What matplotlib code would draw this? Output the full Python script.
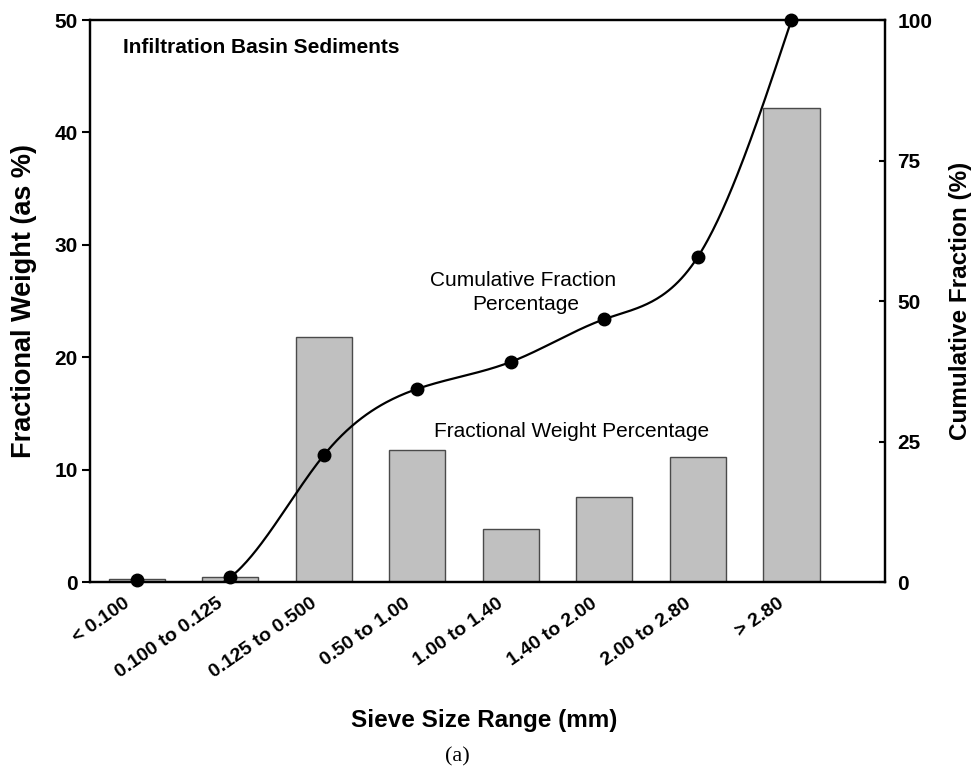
import numpy as np
import matplotlib
matplotlib.use('Agg')
import matplotlib.pyplot as plt
from matplotlib.transforms import ScaledTranslation

plt.rcParams['font.family'] = ['Liberation Sans', 'DejaVu Sans']

# data
sieve_ranges = ['< 0.100', '0.100 to 0.125', '0.125 to 0.500', '0.50 to 1.00',
                '1.00 to 1.40', '1.40 to 2.00', '2.00 to 2.80', '> 2.80']
fractional_weight = [0.3, 0.5, 21.8, 11.8, 4.7, 7.6, 11.1, 42.2]
cumulative_fraction = [0.4, 0.9, 22.6, 34.4, 39.2, 46.8, 57.9, 100.0]
left_ticks = [0, 10, 20, 30, 40, 50]
right_ticks = [0, 25, 50, 75, 100]


def natural_spline(x, y, xs):
    # plain natural cubic spline, no scipy here
    x = np.asarray(x, float)
    y = np.asarray(y, float)
    n = len(x)
    h = np.diff(x)
    A = np.zeros((n, n))
    b = np.zeros(n)
    A[0, 0] = A[-1, -1] = 1
    for i in range(1, n - 1):
        A[i, i - 1] = h[i - 1]
        A[i, i] = 2 * (h[i - 1] + h[i])
        A[i, i + 1] = h[i]
        b[i] = 3 * ((y[i + 1] - y[i]) / h[i] - (y[i] - y[i - 1]) / h[i - 1])
    c = np.linalg.solve(A, b)
    bb = (y[1:] - y[:-1]) / h - h * (2 * c[:-1] + c[1:]) / 3
    d = (c[1:] - c[:-1]) / (3 * h)
    idx = np.clip(np.searchsorted(x, xs) - 1, 0, n - 2)
    t = xs - x[idx]
    return y[idx] + bb[idx] * t + c[idx] * t ** 2 + d[idx] * t ** 3


fig = plt.figure(figsize=(9.74, 7.70), dpi=100)
ax = fig.add_axes([90 / 974, 1 - 582.3 / 770, 795 / 974, 562.3 / 770])
ax2 = ax.twinx()

pos = np.arange(len(sieve_ranges))
ax.bar(pos, fractional_weight, width=0.6, color='#c0c0c0',
       edgecolor='#4a4a4a', linewidth=1.0)

xs = np.linspace(pos[0], pos[-1], 400)
ax2.plot(xs, natural_spline(pos, cumulative_fraction, xs), color='black', lw=1.6)
ax2.plot(pos, cumulative_fraction, 'o', color='black', markersize=9, clip_on=False,
         zorder=5)

ax.set_xlim(-0.5, 8.0)
ax.set_ylim(0, 50)
ax2.set_ylim(0, 100)
ax.set_yticks(left_ticks)
ax2.set_yticks(right_ticks)
ax.set_xticks(pos)

ax.tick_params(axis='x', length=0, pad=9)
ax.tick_params(axis='y', direction='out', length=6, width=1.5, pad=3, labelsize=15)
ax2.tick_params(axis='y', direction='in', length=4.5, width=1.5, pad=9, labelsize=15)
for lab in ax.get_yticklabels() + ax2.get_yticklabels():
    lab.set_fontweight('bold')

ax.set_xticklabels(sieve_ranges, rotation=35, ha='right', va='top',
                   rotation_mode='anchor', fontsize=14, fontweight='bold')
# nudge the slanted labels left (after tick_params, which resets transforms)
shift = ScaledTranslation(-14 / 100, 0, fig.dpi_scale_trans)
for lab in ax.get_xticklabels():
    lab.set_transform(lab.get_transform() + shift)

for a in (ax, ax2):
    for s in a.spines.values():
        s.set_linewidth(1.6)

ax.text((123 - 90) / 795, 0.941, 'Infiltration Basin Sediments',
        transform=ax.transAxes, fontsize=15, fontweight='bold', va='baseline')
ax.text((523.5 - 90) / 795, (582.3 - 286) / 562.3, 'Cumulative Fraction',
        transform=ax.transAxes, fontsize=15, ha='center', va='baseline')
ax.text((525.5 - 90) / 795, (582.3 - 310) / 562.3, 'Percentage',
        transform=ax.transAxes, fontsize=15, ha='center', va='baseline')
ax.text((572 - 90) / 795, (582.3 - 437) / 562.3, 'Fractional Weight Percentage',
        transform=ax.transAxes, fontsize=15, ha='center', va='baseline')

fig.text(24 / 974, 1 - 301 / 770, 'Fractional Weight (as %)', rotation=90,
         ha='center', va='center', fontsize=19.5, fontweight='bold')
fig.text(961 / 974, 1 - 301 / 770, 'Cumulative Fraction (%)', rotation=90,
         ha='center', va='center', fontsize=17.5, fontweight='bold')
fig.text(484.5 / 974, 1 - 727 / 770, 'Sieve Size Range (mm)', ha='center',
         va='baseline', fontsize=17.5, fontweight='bold')
fig.text(457 / 974, 1 - 757 / 770, '(a)', ha='center', va='center', fontsize=16,
         family='Liberation Serif')

fig.savefig('out.png', dpi=100)
